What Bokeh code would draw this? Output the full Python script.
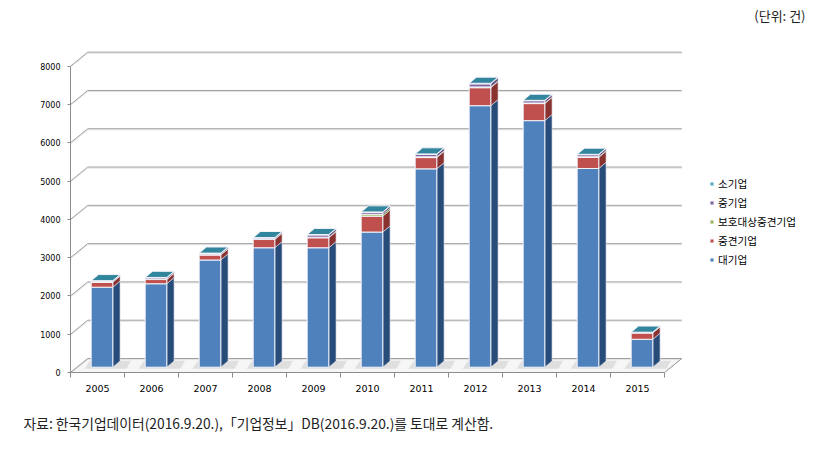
from bokeh.plotting import figure
from bokeh.models import FixedTicker, Legend, LegendItem, Title, Label, Range1d
from bokeh.embed import file_html
from bokeh.resources import INLINE

# ---------------- data ----------------
years = ["2005", "2006", "2007", "2008", "2009", "2010",
         "2011", "2012", "2013", "2014", "2015"]
series_names = ["대기업", "중견기업", "보호대상중견기업", "중기업", "소기업"]
large = [2090, 2180, 2800, 3120, 3120, 3530, 5180, 6830, 6440, 5190, 730]
mid_large = [130, 110, 130, 215, 260, 415, 295, 470, 445, 290, 165]
protected = [10, 10, 10, 10, 15, 50, 20, 20, 15, 15, 5]
medium = [20, 35, 30, 30, 60, 50, 65, 80, 60, 55, 10]
small = [10, 10, 10, 10, 10, 10, 10, 15, 10, 10, 5]
series_values = [large, mid_large, protected, medium, small]
y_ticks = [0, 1000, 2000, 3000, 4000, 5000, 6000, 7000, 8000]
unit_text = "(단위: 건)"
source_text = "자료: 한국기업데이터(2016.9.20.),「기업정보」DB(2016.9.20.)를 토대로 계산함."

# ---------------- styles ----------------
front_colors = ["#4F81BD", "#C0504D", "#9BBB59", "#8064A2", "#4BACC6"]
side_colors = ["#284C7A", "#8A3230", "#6F8A3A", "#5B4579", "#2F8199"]
top_color = "#31859C"

# 3D geometry (layout, in axis units)
FRONT_X0 = 0.383
BAR_W = 0.40
FRONT_DY = 138
DEPTH_X = 0.135
DEPTH_Y = 160
WALL_X = 0.32
WALL_Y = 366
N = len(years)
PX_PER_UNIT = 0.03829
FRAME_H = 372

p = figure(width=825, height=449, output_backend="svg", toolbar_location=None,
           min_border_left=70, min_border_right=5, min_border_top=0, min_border_bottom=77,
           x_range=Range1d(0, 750 / 54), y_range=Range1d(0, FRAME_H / PX_PER_UNIT))
p.xgrid.visible = False
p.ygrid.visible = False
p.outline_line_color = None
p.background_fill_color = "white"

# floor
p.patch([0, N, N + WALL_X, WALL_X], [0, 0, WALL_Y, WALL_Y],
        fill_color="#F6F6F6", line_color="#C8C8C8", line_width=1)

# back-wall gridlines with left diagonals
gx0, gy0, gx1, gy1 = [], [], [], []
for v in y_ticks:
    gx0 += [0, WALL_X]
    gy0 += [v, v + WALL_Y]
    gx1 += [WALL_X, N + WALL_X]
    gy1 += [v + WALL_Y, v + WALL_Y]
p.segment(gx0, [g - 28 for g in gy0], gx1, [g - 28 for g in gy1], line_color="#E2E2E2", line_width=1)
p.segment(gx0, gy0, gx1, gy1, line_color="#A0A0A0", line_width=1)
p.segment([N], [0], [N + WALL_X], [WALL_Y], line_color="#A0A0A0", line_width=1)

# floor shadows under bars
sh_xs, sh_ys = [], []
for i in range(N):
    x0 = i + FRONT_X0
    sh_xs.append([x0 - 0.12, x0 + BAR_W + DEPTH_X + 0.12, x0 + BAR_W + DEPTH_X + 0.2, x0 - 0.02])
    sh_ys.append([FRONT_DY - 40, FRONT_DY - 40, FRONT_DY + DEPTH_Y + 10, FRONT_DY + DEPTH_Y + 10])
p.patches(sh_xs, sh_ys, fill_color="#BDBDBD", fill_alpha=0.4, line_color=None)

# stacked 3D bars
front_renderers = []
cum = [0.0] * N
for s, vals in enumerate(series_values):
    fxs, fys, sxs, sys_ = [], [], [], []
    for i in range(N):
        x0 = i + FRONT_X0
        x1 = x0 + BAR_W
        y0 = FRONT_DY + cum[i]
        y1 = y0 + vals[i]
        fxs.append([x0, x1, x1, x0])
        fys.append([y0, y0, y1, y1])
        sxs.append([x1, x1 + DEPTH_X, x1 + DEPTH_X, x1])
        sys_.append([y0, y0 + DEPTH_Y, y1 + DEPTH_Y, y1])
    p.patches(sxs, sys_, fill_color=side_colors[s], line_color="#E8E8F0", line_width=0.6)
    r = p.patches(fxs, fys, fill_color=front_colors[s], line_color="#F4F4FA", line_width=1)
    front_renderers.append(r)
    cum = [c + v for c, v in zip(cum, vals)]

# top faces
txs, tys = [], []
for i in range(N):
    x0 = i + FRONT_X0
    x1 = x0 + BAR_W
    yt = FRONT_DY + cum[i]
    txs.append([x0, x1, x1 + DEPTH_X, x0 + DEPTH_X])
    tys.append([yt, yt, yt + DEPTH_Y, yt + DEPTH_Y])
p.patches(txs, tys, fill_color=top_color, line_color="#F4F4FA", line_width=1)

# axes
p.yaxis.ticker = FixedTicker(ticks=y_ticks)
p.yaxis.bounds = (0, 8000)
p.yaxis.axis_line_color = "#8C8C8C"
p.yaxis.major_tick_line_color = "#8C8C8C"
p.yaxis.major_tick_out = 3
p.yaxis.major_tick_in = 0
p.yaxis.minor_tick_line_color = None
p.yaxis.major_label_standoff = 7
p.yaxis.major_label_text_font = "DejaVu Sans"
p.yaxis.major_label_text_font_size = "8px"
p.yaxis.major_label_text_color = "#000000"

centers = [i + 0.5 for i in range(N)]
p.xaxis.ticker = FixedTicker(ticks=centers, minor_ticks=list(range(N + 1)))
p.xaxis.major_label_overrides = {c: y for c, y in zip(centers, years)}
p.xaxis.bounds = (0, N)
p.xaxis.axis_line_color = "#8C8C8C"
p.xaxis.major_tick_line_color = None
p.xaxis.major_tick_out = 0
p.xaxis.major_tick_in = 0
p.xaxis.minor_tick_line_color = "#8C8C8C"
p.xaxis.minor_tick_out = 5
p.xaxis.minor_tick_in = 0
p.xaxis.major_label_standoff = 7
p.xaxis.major_label_text_font = "DejaVu Sans"
p.xaxis.major_label_text_font_size = "9.5px"
p.xaxis.major_label_text_color = "#000000"

# legend (reverse order)
items = [LegendItem(label=series_names[s], renderers=[front_renderers[s]])
         for s in reversed(range(len(series_names)))]
legend = Legend(items=items, location=(639, 105), orientation="vertical",
                padding=0, margin=0, spacing=4, glyph_width=5, glyph_height=5,
                label_height=12, label_standoff=4,
                label_text_font="Noto Sans CJK KR", label_text_font_size="10.6px",
                label_text_color="#000000",
                border_line_color=None, background_fill_alpha=0)
p.add_layout(legend)

# unit text (inside the frame, top right)
p.add_layout(Label(x=(805 - 70) / 54, y=(FRAME_H - 15.3) / PX_PER_UNIT, text=unit_text,
                   text_align="right", text_baseline="middle",
                   text_font="Noto Sans CJK KR", text_font_size="13px",
                   text_color="#222222"))

# source note below the axis
src_title = Title(text=source_text, align="left", offset=-47, standoff=32,
                  text_font="Noto Sans CJK KR", text_font_size="13.8px",
                  text_font_style="normal", text_color="#222222")
p.add_layout(src_title, "below")

open("out.html", "w").write(file_html(p, INLINE))
